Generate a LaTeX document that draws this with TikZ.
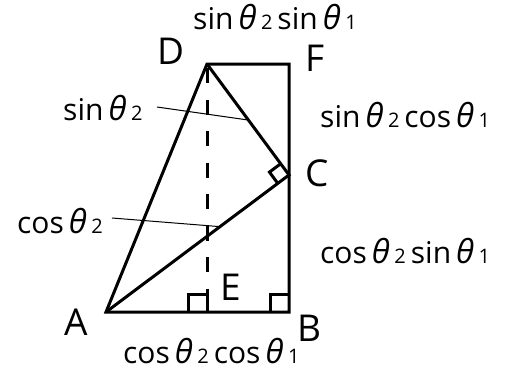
\documentclass[tikz,border=0pt]{standalone}
\usepackage{fontspec}
\setmainfont{Open Sans}
\usetikzlibrary{calc}
\newcommand\thS[1]{{\fontsize{33}{36}\selectfont\itshape θ}\hspace{4.5pt}{\fontsize{20}{22}\selectfont #1}}
\tikzset{
  geo/.style={line width=3pt, line join=miter},
  leader/.style={line width=1pt},
  formula/.style={inner sep=0pt, anchor=base west, font=\fontsize{30}{34}\selectfont},
  pointlbl/.style={inner sep=0pt, anchor=center, font=\fontsize{37}{40}\selectfont},
}
\begin{document}
\begin{tikzpicture}[x=1pt,y=-1pt]
\useasboundingbox (0,0) rectangle (512,372);
\coordinate (A) at (106,312);
\coordinate (B) at (289,312);
\coordinate (C) at (289,175);
\coordinate (D) at (207,64);
\coordinate (F) at (289,64);
\coordinate (E) at (207,312);
\coordinate (Etop) at (207,294);
% main figure
\draw[geo] (A) -- (B) -- (F) -- (D) -- cycle;
\draw[geo] (A) -- (C) -- (D);
\draw[line width=3pt, dash pattern=on 15pt off 16.5pt, dash phase=27.5pt] (D) -- (Etop);
% right angle marks
\draw[geo] (188,312) -- (188,294) -- (207,294) -- (207,312);
\draw[geo] (270,312) -- (270,294) -- (289,294);
\coordinate (c1) at ($(C)!14pt!(D)$);
\coordinate (c2) at ($(C)!14pt!(A)$);
\draw[geo] (c1) -- ($(c1)+(c2)-(C)$) -- (c2);
% leader lines
\coordinate (ls) at (157,107);
\coordinate (lc) at (112,218);
\draw[leader] (ls) -- ($(D)!0.505!(C)$);
\draw[leader] (lc) -- ($(A)!0.623!(C)$);
% point labels
\node[pointlbl] (lD) at (171,51) {D};
\node[pointlbl] (lF) at (315,58) {F};
\node[pointlbl] (lC) at (317,173) {C};
\node[pointlbl] (lE) at (231,287) {E};
\node[pointlbl] (lA) at (76,322) {A};
\node[pointlbl] (lB) at (309,328) {B};
% formulas
\node[formula] (f1) at (193,30) {sin\,\thS{2}\,sin\,\thS{1}};
\node[formula] (f2) at (63,120) {sin\,\thS{2}};
\node[formula] (f3) at (320,127) {sin\,\thS{2}\,cos\,\thS{1}};
\node[formula] (f4) at (17,233) {cos\,\thS{2}};
\node[formula] (f5) at (320,263) {cos\,\thS{2}\,sin\,\thS{1}};
\node[formula] (f6) at (123,363) {cos\,\thS{2}\,cos\,\thS{1}};
\end{tikzpicture}
\end{document}
